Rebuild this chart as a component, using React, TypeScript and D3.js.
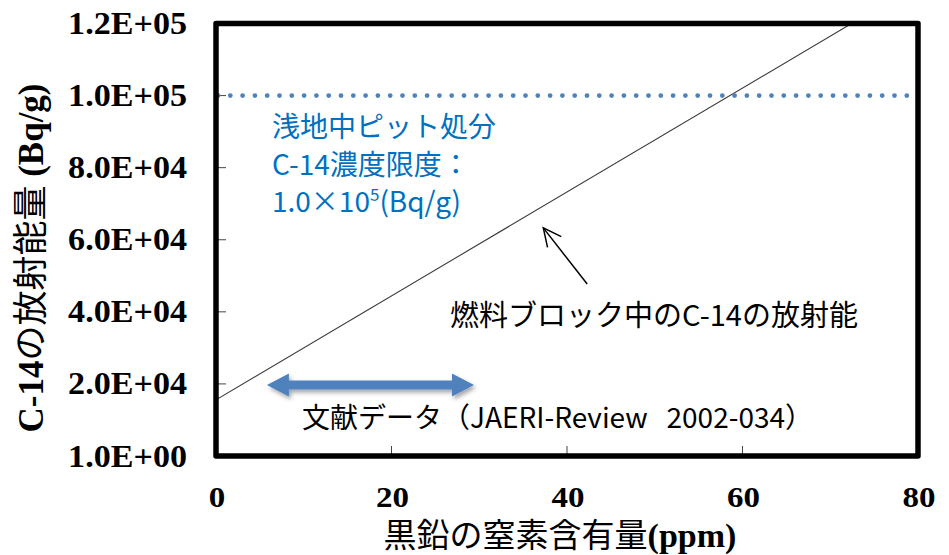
import React from "react";
import * as d3 from "d3";

const xTicks = [0, 20, 40, 60, 80];
const yTicks = [0, 20000, 40000, 60000, 80000, 100000, 120000];
const yTickLabels = ["1.0E+00", "2.0E+04", "4.0E+04", "6.0E+04", "8.0E+04", "1.0E+05", "1.2E+05"];
const c14Line = [
  { n: 0, a: 15600 },
  { n: 80, a: 130900 },
];
const limitValue = 100000;
const literatureRange = [5.8, 29.4];
const literatureLevel = 19700;
const pointerFrom = { n: 42.3, a: 47700 };
const pointerTo = { n: 37.3, a: 63300 };

const W = 949, H = 555;
const L = 216, R = 918, T = 23.5, B = 456;

export default function App() {
  const x = d3.scaleLinear().domain([0, 80]).range([L, R]);
  const y = d3.scaleLinear().domain([0, 120000]).range([B, T]);
  const line = d3.line<{ n: number; a: number }>().x(d => x(d.n)).y(d => y(d.a));

  const serif = "'Liberation Serif', 'Times New Roman', serif";
  const jp = "'Noto Sans CJK JP', sans-serif";

  // double arrow
  const ax1 = x(literatureRange[0]), ax2 = x(literatureRange[1]), ay = y(literatureLevel);
  const hl = 22, hh = 11.5, sh = 4.5;
  const arrowPath = [
    [ax1, ay], [ax1 + hl, ay - hh], [ax1 + hl, ay - sh], [ax2 - hl, ay - sh], [ax2 - hl, ay - hh],
    [ax2, ay], [ax2 - hl, ay + hh], [ax2 - hl, ay + sh], [ax1 + hl, ay + sh], [ax1 + hl, ay + hh],
  ].map((p, i) => (i === 0 ? "M" : "L") + p[0] + "," + p[1]).join("") + "Z";

  // pointer arrow
  const px1 = x(pointerFrom.n), py1 = y(pointerFrom.a), px2 = x(pointerTo.n), py2 = y(pointerTo.a);
  const ang = Math.atan2(py2 - py1, px2 - px1);
  const headLen = 20, spread = 0.45;
  const h1 = [px2 - headLen * Math.cos(ang - spread), py2 - headLen * Math.sin(ang - spread)];
  const h2 = [px2 - headLen * Math.cos(ang + spread), py2 - headLen * Math.sin(ang + spread)];

  return (
    <svg width={W} height={H} style={{ position: "absolute", left: 0, top: 0, background: "#fff" }}>
      <defs>
        <clipPath id="plotClip">
          <rect x={L} y={T} width={R - L} height={B - T} />
        </clipPath>
        <filter id="shadow" x="-20%" y="-50%" width="140%" height="200%">
          <feDropShadow dx="2" dy="3" stdDeviation="2" floodColor="#000" floodOpacity="0.35" />
        </filter>
      </defs>
      <rect x={0} y={0} width={W} height={H} fill="#fff" />

      {/* ticks */}
      {yTicks.map(t => (
        <line key={"yt" + t} x1={L} x2={L + 10} y1={y(t)} y2={y(t)} stroke="#444" strokeWidth={1} />
      ))}
      {xTicks.map(t => (
        <line key={"xt" + t} x1={x(t)} x2={x(t)} y1={B} y2={B - 10} stroke="#444" strokeWidth={1} />
      ))}

      {/* C-14 line */}
      <path d={line(c14Line) || ""} fill="none" stroke="#3a3a3a" strokeWidth={1.1} clipPath="url(#plotClip)" />

      {/* limit dotted line */}
      <line x1={L + 2} x2={R - 2} y1={y(limitValue)} y2={y(limitValue)} stroke="#4F81BD" strokeWidth={4.8}
        strokeDasharray="0 12.3" strokeLinecap="round" />

      {/* frame */}
      <rect x={L} y={T} width={R - L} height={B - T} fill="none" stroke="#000" strokeWidth={5.5} strokeLinejoin="round" />

      {/* y tick labels */}
      {yTicks.map((t, i) => (
        <text key={"yl" + t} transform={`translate(187,${y(t) + 10.5}) scale(1.1,1)`} textAnchor="end"
          fontFamily={serif} fontWeight="bold" fontSize={31} fill="#000">
          {yTickLabels[i]}
        </text>
      ))}
      {/* x tick labels */}
      {xTicks.map(t => (
        <text key={"xl" + t} transform={`translate(${x(t) + 1},507) scale(1.1,1)`} textAnchor="middle"
          fontFamily={serif} fontWeight="bold" fontSize={30} fill="#000">
          {t}
        </text>
      ))}

      {/* axis titles */}
      <text x={560} y={547} textAnchor="middle" fontSize={33} fill="#000">
        <tspan fontFamily={jp}>黒鉛の窒素含有量</tspan>
        <tspan fontFamily={serif} fontWeight="bold" fontSize={34}>(ppm)</tspan>
      </text>
      <text transform="translate(43,258) rotate(-90)" textAnchor="middle" fontSize={35} fill="#000">
        <tspan fontFamily={serif} fontWeight="bold">C-14</tspan>
        <tspan fontFamily={jp}>の放射能量</tspan>
        <tspan fontFamily={serif} fontWeight="bold" style={{ whiteSpace: "pre" }}> (Bq/g)</tspan>
      </text>

      {/* limit annotation */}
      <g fontFamily={jp} fontSize={28} fill="#0070C0">
        <text x={272} y={137}>浅地中ピット処分</text>
        <text x={272} y={175}>C-14濃度限度：</text>
        <text x={272} y={212}>
          1.0×10<tspan fontSize={17} dy={-11}>5</tspan><tspan dy={11}>(Bq/g)</tspan>
        </text>
      </g>

      {/* pointer arrow and label */}
      <line x1={px1} y1={py1} x2={px2} y2={py2} stroke="#000" strokeWidth={1.5} />
      <polyline points={`${h1[0]},${h1[1]} ${px2},${py2} ${h2[0]},${h2[1]}`} fill="none" stroke="#000" strokeWidth={1.5} />
      <text x={450} y={326} fontFamily={jp} fontSize={29} fill="#000">燃料ブロック中のC-14の放射能</text>

      {/* literature range arrow */}
      <path d={arrowPath} fill="#4F81BD" filter="url(#shadow)" />
      <text x={302} y={428} fontFamily={jp} fontSize={28} fill="#000" style={{ whiteSpace: "pre" }}>
        文献データ（JAERI-Review   2002-034）
      </text>
    </svg>
  );
}
